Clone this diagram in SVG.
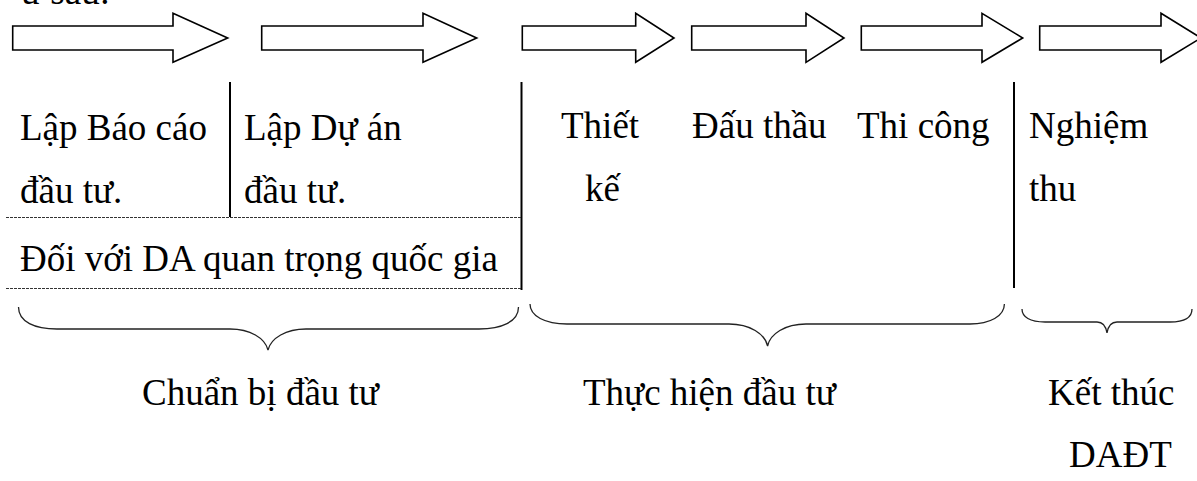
<svg xmlns="http://www.w3.org/2000/svg" width="1197" height="481" viewBox="0 0 1197 481">
<style>
  .t { font-family: "Liberation Serif", "Times New Roman", serif; font-size: 37px; fill: #000; }
  .arrow { fill: #fff; stroke: #000; stroke-width: 1.6; stroke-linejoin: miter; }
  .vline { stroke: #000; stroke-width: 2; fill: none; }
  .dash { stroke: #333; stroke-width: 1; stroke-dasharray: 3 1; fill: none; }
  .brace { stroke: #222; stroke-width: 1.3; fill: none; }
</style>
<rect width="1197" height="481" fill="#fff"/>
<text class="t" x="21" y="4">ư sau:</text>

<g id="arrows">
  <polygon id="arrow1" class="arrow" points="12.7,26 173,26 173,13.3 227.7,38 173,62.3 173,50 12.7,50"/>
  <polygon id="arrow2" class="arrow" points="261.7,26 423,26 423,13.3 476.7,38 423,62.3 423,50 261.7,50"/>
  <polygon id="arrow3" class="arrow" points="522.3,26 635.7,26 635.7,13.3 674,38 635.7,62.3 635.7,50 522.3,50"/>
  <polygon id="arrow4" class="arrow" points="691.7,26 806,26 806,13.3 844,38 806,62.3 806,50 691.7,50"/>
  <polygon id="arrow5" class="arrow" points="861.3,26 982,26 982,13.3 1022.7,38 982,62.3 982,50 861.3,50"/>
  <polygon id="arrow6" class="arrow" points="1039.7,26 1161,26 1161,13.3 1201,38 1161,62.3 1161,50 1039.7,50"/>
</g>

<g id="connectors">
  <line class="vline" x1="230" y1="82" x2="230" y2="217"/>
  <line class="vline" x1="521.5" y1="82" x2="521.5" y2="290"/>
  <line class="vline" x1="1014" y1="82" x2="1014" y2="288"/>
  <line class="dash" x1="6" y1="217.5" x2="521" y2="217.5"/>
  <line class="dash" x1="6" y1="288.5" x2="521" y2="288.5"/>
</g>

<g id="node-lap-bao-cao">
  <text class="t" x="20" y="140">Lập Báo cáo</text>
  <text class="t" x="20" y="203">đầu tư.</text>
</g>
<g id="node-lap-du-an">
  <text class="t" x="244" y="140">Lập Dự án</text>
  <text class="t" x="244" y="203">đầu tư.</text>
</g>
<g id="node-da-quan-trong">
  <text class="t" x="20" y="271">Đối với DA quan trọng quốc gia</text>
</g>
<g id="node-thiet-ke">
  <text class="t" x="561" y="138">Thiết</text>
  <text class="t" x="585" y="201">kế</text>
</g>
<g id="node-dau-thau">
  <text class="t" x="692" y="138">Đấu thầu</text>
</g>
<g id="node-thi-cong">
  <text class="t" x="857" y="138">Thi công</text>
</g>
<g id="node-nghiem-thu">
  <text class="t" x="1029" y="138">Nghiệm</text>
  <text class="t" x="1029" y="201">thu</text>
</g>

<g id="braces">
  <path class="brace" d="M18.5,307 C18.5,322 35,329 57,329 L230,329 C250,329 265,338 268,350 C271,338 286,329 306,329 L479,329 C501,329 518.5,322 518.5,307"/>
  <path class="brace" d="M530,304 C530,316 545,324 567,324 L729,324 C750,324 765,334 767.6,346 C770,334 785,324 806,324 L970,324 C990,324 1004.4,316 1004.4,304"/>
  <path class="brace" d="M1022,309 C1022,317 1030,322 1045,322 L1097,322 C1103,322 1106,327 1107,333 C1108,327 1111,322 1117,322 L1170,322 C1185,322 1192,317 1192,309"/>
</g>

<g id="node-chuan-bi">
  <text class="t" x="142" y="405">Chuẩn bị đầu tư</text>
</g>
<g id="node-thuc-hien">
  <text class="t" x="583" y="405">Thực hiện đầu tư</text>
</g>
<g id="node-ket-thuc">
  <text class="t" x="1048" y="405">Kết thúc</text>
  <text class="t" x="1069" y="467">DAĐT</text>
</g>
</svg>
